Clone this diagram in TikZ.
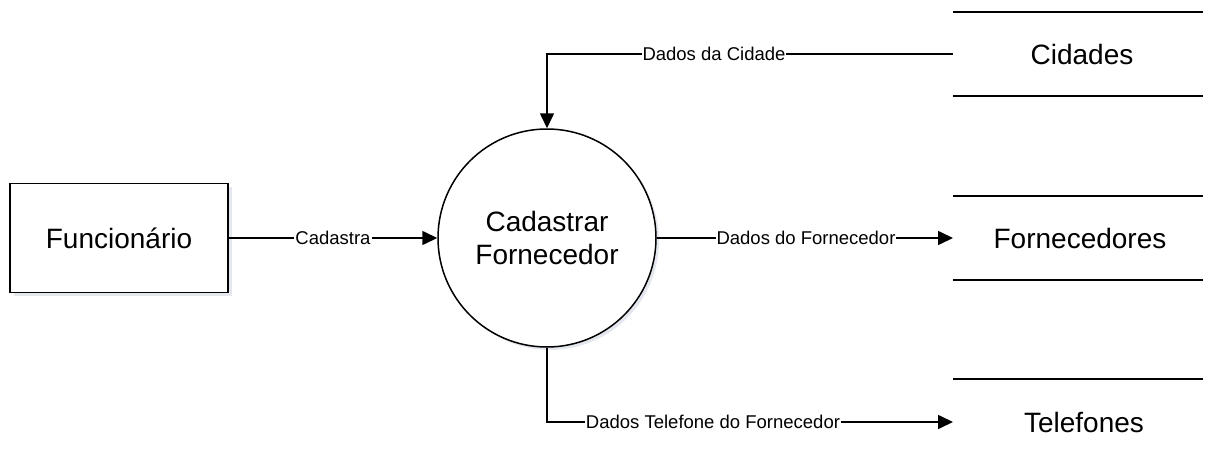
\documentclass[tikz,border=0pt]{standalone}
\usepackage{fontspec}
\setmainfont{Liberation Sans}
\usetikzlibrary{arrows.meta}
\definecolor{shadowc}{RGB}{228,232,238}
\begin{document}
\begin{tikzpicture}[x=1pt,y=-1pt,
  conn/.style={line width=1.6pt},
  arr/.style={conn,-{Triangle[length=15pt,width=14pt]}},
  lbl/.style={fill=white,inner sep=1pt,font=\fontsize{18.5}{20}\selectfont},
  main/.style={font=\fontsize{28}{33}\selectfont,align=center},
  storeline/.style={line width=1.5pt}]
\useasboundingbox (0,0) rectangle (1207,460);
% shadows
\fill[shadowc] (14,187) rectangle (232,296);
\fill[shadowc] (550,241) circle[radius=109];
% external entity
\node[main,draw,fill=white,line width=1.5pt,minimum width=218pt,minimum height=109pt] (func) at (119,238) {Funcionário};
% process
\node[main,draw,fill=white,circle,line width=1.5pt,minimum size=218pt,inner sep=0pt] (proc) at (547,238) {Cadastrar\\Fornecedor};
% data stores
\node[main] (cid) at (1082,54) {Cidades};
\node[main] (forn) at (1080,238) {Fornecedores};
\node[main] (tel) at (1084,422) {Telefones};
\coordinate (cidin) at (953,54);
\coordinate (fornin) at (953,238);
\coordinate (telin) at (953,422);
\draw[storeline] (953,12) -- (1203,12);
\draw[storeline] (953,96) -- (1203,96);
\draw[storeline] (953,196) -- (1203,196);
\draw[storeline] (953,280) -- (1203,280);
\draw[storeline] (953,379) -- (1203,379);
% flows
\draw[arr] (func.east) -- (proc.west);
\node[lbl] (l1) at (333,238) {Cadastra};
\draw[arr] (cidin) -- (proc.north |- cidin) -- (proc.north);
\node[lbl] (l2) at (714,54) {Dados da Cidade};
\draw[arr] (proc.east) -- (fornin);
\node[lbl] (l3) at (806,238) {Dados do Fornecedor};
\draw[arr] (proc.south) -- (proc.south |- telin) -- (telin);
\node[lbl] (l4) at (713,422) {Dados Telefone do Fornecedor};
\end{tikzpicture}
\end{document}
